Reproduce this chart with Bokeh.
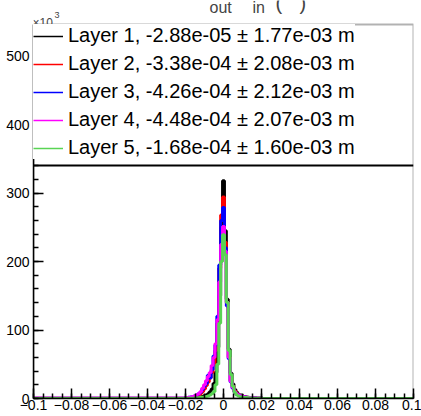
from bokeh.plotting import figure
from bokeh.models import (Range1d, SingleIntervalTicker, Legend, LegendItem, Span, Label,
                          CustomJSTickFormatter, BoxAnnotation)
from bokeh.embed import file_html
from bokeh.resources import INLINE

# ---- data (counts in units of 10^3) ----
bin_width = 0.001
offsets = list(range(-20, 21))          # central bins, centred at k*bin_width
x_min, x_max = -0.1, 0.1

layer1 = [0.3, 0.4, 0.5, 0.6, 0.8, 1.0, 1.3, 1.7, 2.2, 3.0,
          4.0, 5.0, 7.0, 10, 14, 22, 38, 75, 150, 250,
          318,
          245, 145, 72, 37, 21, 13, 9, 6, 5, 4,
          3.0, 2.2, 1.7, 1.3, 1.0, 0.8, 0.6, 0.5, 0.4, 0.3]
layer2 = [0.7, 0.9, 1.2, 1.6, 2.1, 2.8, 3.8, 5.0, 7.0, 10,
          14, 19, 24, 30, 38, 50, 70, 110, 190, 268,
          294,
          228, 140, 60, 26, 18, 11, 7.5, 5.5, 4.0, 3.2,
          2.5, 2.0, 1.6, 1.3, 1.0, 0.8, 0.6, 0.5, 0.4, 0.3]
layer3 = [1.0, 1.3, 1.7, 2.2, 3.0, 4.0, 5.0, 7.0, 9.0, 13,
          18, 22, 34, 30, 42, 62, 78, 120, 195, 260,
          279,
          220, 135, 58, 24, 15, 9.5, 6.5, 5.0, 4.0, 3.0,
          2.4, 1.9, 1.5, 1.2, 1.0, 0.8, 0.6, 0.5, 0.4, 0.3]
layer4 = [1.0, 1.3, 1.7, 2.2, 3.0, 4.0, 5.5, 7.0, 10, 15,
          20, 26, 32, 38, 48, 60, 80, 115, 170, 225,
          251,
          215, 140, 60, 25, 16, 10, 7.0, 5.0, 4.0, 3.0,
          2.4, 1.9, 1.5, 1.2, 1.0, 0.8, 0.6, 0.5, 0.4, 0.3]
layer5 = [0.2, 0.25, 0.3, 0.4, 0.5, 0.7, 0.9, 1.2, 1.5, 1.8,
          2.0, 2.8, 3.8, 5.0, 7.0, 10, 20, 50, 110, 200,
          239,
          210, 140, 70, 35, 18, 9, 5.0, 3.5, 2.5, 2.0,
          1.6, 1.3, 1.0, 0.8, 0.6, 0.5, 0.4, 0.3, 0.25, 0.2]
tails = [(0.15, 0.1), (0.2, 0.15), (0.25, 0.15), (0.25, 0.15), (0.1, 0.1)]

labels = ["Layer 1, -2.88e-05 \u00b1 1.77e-03 m",
          "Layer 2, -3.38e-04 \u00b1 2.08e-03 m",
          "Layer 3, -4.26e-04 \u00b1 2.12e-03 m",
          "Layer 4, -4.48e-04 \u00b1 2.07e-03 m",
          "Layer 5, -1.68e-04 \u00b1 1.60e-03 m"]
colors = ["#000000", "#ff0000", "#0000ff", "#ff00ff", "#59d454"]
series = [layer1, layer2, layer3, layer4, layer5]

y_max = 546
x_ticks_interval = 0.02
y_ticks_interval = 100

# ---- geometry ----
W, H = 421, 416
FL, FR, FT, FB = 33, 413, 24, 398      # axes box in pixels
y_canvas_top = y_max * FB / (FB - FT)  # data value at the very top of the canvas


def px2x(px):
    return x_min + (px - FL) / (FR - FL) * (x_max - x_min)


def py2y(py):
    return (FB - py) / (FB - FT) * y_max


FONT = "Liberation Sans"

p = figure(width=W, height=H, output_backend="svg", toolbar_location=None,
           x_range=Range1d(x_min, x_max), y_range=Range1d(0, y_canvas_top),
           min_border_left=FL, min_border_right=W - FR,
           min_border_top=0, min_border_bottom=H - FB)
p.xgrid.visible = False
p.ygrid.visible = False
p.background_fill_color = "white"
p.border_fill_color = "white"
p.outline_line_color = None

renderers = []
for vals, (tl, tr), col in zip(series, tails, colors):
    edges = [x_min] + [(k - 0.5) * bin_width for k in offsets] + [offsets[-1] * bin_width + 0.5 * bin_width, x_max]
    ys = [tl] + list(vals) + [tr]
    ys = ys + [ys[-1]]
    p.step(x=edges, y=ys, mode="after", line_color=col, line_width=3)
    # thin proxy (single point, draws nothing) for the legend sample
    renderers.append(p.line(x=edges[:1], y=ys[:1], line_color=col, line_width=1.5))

for ax in (p.xaxis[0], p.yaxis[0]):
    ax.major_tick_in = 10
    ax.major_tick_out = 0
    ax.minor_tick_in = 5
    ax.minor_tick_out = 0
    ax.axis_line_width = 1.5
    ax.major_tick_line_width = 1.5
    ax.minor_tick_line_width = 1.5
    ax.major_label_text_font = FONT
    ax.major_label_text_font_size = "14px"
    ax.major_label_text_color = "black"

p.yaxis[0].bounds = (0, y_max)
p.xaxis[0].ticker = SingleIntervalTicker(interval=x_ticks_interval, num_minor_ticks=4)
p.yaxis[0].ticker = SingleIntervalTicker(interval=y_ticks_interval, num_minor_ticks=5)
p.xaxis[0].major_label_standoff = 1
p.yaxis[0].major_label_standoff = 4
p.xaxis[0].formatter = CustomJSTickFormatter(code="""
if (Math.abs(tick) < 1e-9) return "0";
const s = String(parseFloat(tick.toFixed(4)));
return s.replace("-", "\u2212");
""")

items = [LegendItem(label=lab, renderers=[r]) for lab, r in zip(labels, renderers)]
legend = Legend(items=items, location=(0, FB - 159), margin=0, padding=2, spacing=5,
                glyph_width=30, glyph_height=20, label_standoff=5,
                label_text_font=FONT, label_text_font_size="20px",
                label_text_color="black", border_line_color=None,
                background_fill_color="white", background_fill_alpha=1.0)
p.add_layout(legend)

p.add_layout(Span(location=py2y(165), dimension="width", line_color="black", line_width=2))
p.add_layout(BoxAnnotation(left=x_min, right=x_max, bottom=0, top=y_max,
                           fill_color=None, fill_alpha=0, line_color="black", line_width=2))


# multiplier and title fragments
def add_label(px, py, text, size):
    p.add_layout(Label(x=px2x(px), y=py2y(py), text=text, text_font=FONT,
                       text_font_size=size, text_baseline="alphabetic"))


add_label(32, 22, "\u00d710", "12px")
add_label(54, 14, "3", "9px")
add_label(209, 7, "out", "16px")
add_label(252, 7, "in", "16px")
add_label(275, 2, "(", "20px")
add_label(299, 2, ")", "20px")

open("out.html", "w").write(file_html(p, INLINE))
